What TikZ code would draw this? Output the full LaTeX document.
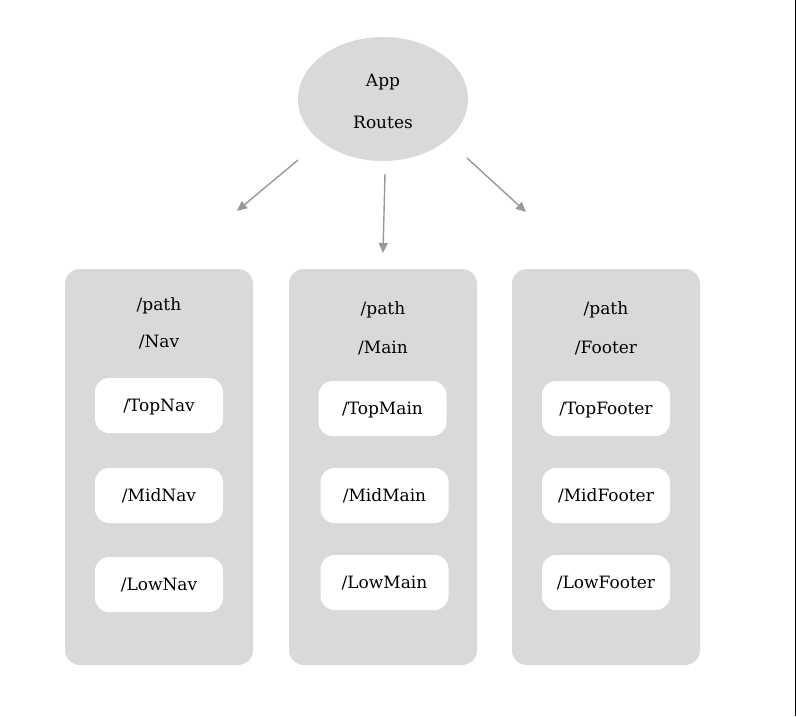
\documentclass[tikz,border=0pt]{standalone}
\usepackage{fontspec}
\setmainfont{DejaVu Serif}
\usetikzlibrary{arrows.meta,shapes.geometric}
\definecolor{panelgray}{HTML}{D9D9D9}
\definecolor{arrowgray}{HTML}{999999}
\tikzset{
  label/.style={font=\fontsize{17}{20}\selectfont, yshift=-2.5pt},
  panel/.style={fill=panelgray, rounded corners=15pt, minimum width=188pt, minimum height=396pt, inner sep=0pt},
  routebox/.style={font=\fontsize{17}{20}\selectfont, text height=11pt, text depth=0pt, fill=white, rounded corners=14pt, minimum width=128pt, minimum height=55pt, inner sep=0pt},
  routearrow/.style={draw=arrowgray, line width=1.4pt, -{Triangle[length=10pt,width=9pt]}, arrowgray}
}
\begin{document}
\begin{tikzpicture}[x=1pt,y=-1pt]
	\useasboundingbox (0,0) rectangle (796,716);
	\fill[white] (0,0) rectangle (796,716);
	\draw[line width=1.2pt] (795.4,0) -- (795.4,716);
	% root
	\node[ellipse, fill=panelgray, minimum width=170pt, minimum height=124pt] (app) at (383,99) {};
	\node[label] (apptitle) at (383,80) {App};
	\node[label] (approutes) at (383,120) {Routes};
	% panels
	\node[panel] (nav) at (159,467) {};
	\node[panel] (main) at (383,467) {};
	\node[panel] (footer) at (606,467) {};
	\node[label] (navpath) at (159,303) {/path};
	\node[label] (navname) at (159,340) {/Nav};
	\node[label] (mainpath) at (383,307) {/path};
	\node[label] (mainname) at (383,346) {/Main};
	\node[label] (footerpath) at (606,307) {/path};
	\node[label] (footername) at (606,346) {/Footer};
	% routes
	\node[routebox] (topnav) at (159,405.5) {/TopNav};
	\node[routebox] (midnav) at (159,495.5) {/MidNav};
	\node[routebox] (lownav) at (159,584.5) {/LowNav};
	\node[routebox] (topmain) at (382.5,408.5) {/TopMain};
	\node[routebox] (midmain) at (384.5,495.5) {/MidMain};
	\node[routebox] (lowmain) at (384.5,582.5) {/LowMain};
	\node[routebox] (topfooter) at (606,408.5) {/TopFooter};
	\node[routebox] (midfooter) at (606,495.5) {/MidFooter};
	\node[routebox] (lowfooter) at (606,582.5) {/LowFooter};
	% arrows
	\coordinate (navtail) at (298,160);
	\coordinate (navtip) at (237,211);
	\coordinate (maintail) at (385,174);
	\coordinate (maintip) at (383,253);
	\coordinate (footertail) at (467,158);
	\coordinate (footertip) at (526,212);
	\draw[routearrow] (navtail) -- (navtip);
	\draw[routearrow] (maintail) -- (maintip);
	\draw[routearrow] (footertail) -- (footertip);
\end{tikzpicture}
\end{document}
